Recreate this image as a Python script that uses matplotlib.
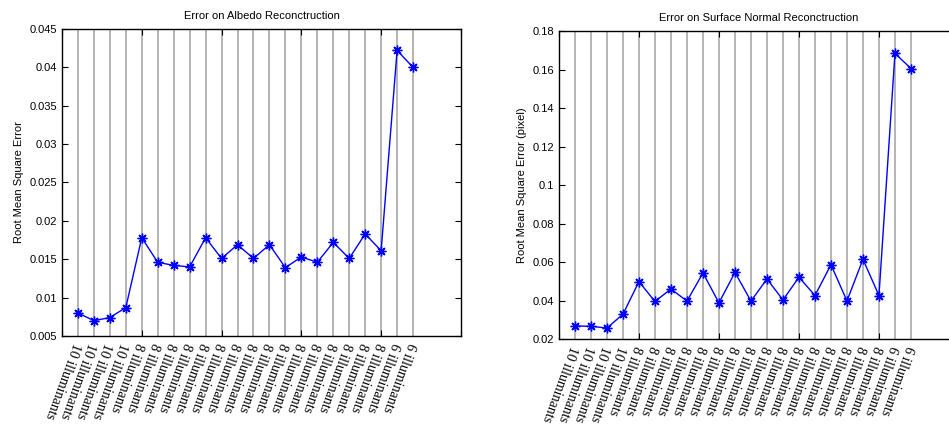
import matplotlib
matplotlib.use('Agg')
import matplotlib.pyplot as plt
import matplotlib.transforms as mtransforms
import numpy as np

plt.rcParams['font.family'] = 'Liberation Sans'

# data
labels = ['10 illuminants'] * 4 + ['8 illuminants'] * 16 + ['6 illuminants'] * 2
albedo_err = [0.0080, 0.0070, 0.0074, 0.0087, 0.0178, 0.0146, 0.0142, 0.0140,
              0.0178, 0.0151, 0.0169, 0.0151, 0.0169, 0.0139, 0.0153, 0.0146,
              0.0172, 0.0151, 0.0183, 0.0161, 0.0422, 0.0400]
normal_err = [0.0268, 0.0266, 0.0257, 0.0329, 0.0498, 0.0395, 0.0460, 0.0397,
              0.0543, 0.0388, 0.0546, 0.0397, 0.0512, 0.0403, 0.0521, 0.0426,
              0.0586, 0.0398, 0.0614, 0.0426, 0.1684, 0.1605]
albedo_yticks = [0.005, 0.01, 0.015, 0.02, 0.025, 0.03, 0.035, 0.04, 0.045]
albedo_ylabels = ['0.005', '0.01', '0.015', '0.02', '0.025', '0.03', '0.035', '0.04', '0.045']
normal_yticks = [0.02, 0.04, 0.06, 0.08, 0.1, 0.12, 0.14, 0.16, 0.18]
normal_ylabels = ['0.02', '0.04', '0.06', '0.08', '0.1', '0.12', '0.14', '0.16', '0.18']

x = np.arange(1, len(labels) + 1)

fig = plt.figure(figsize=(9.49, 4.26), dpi=100)
ax1 = fig.add_axes([0.0653, 0.2113, 0.4204, 0.7207])
ax2 = fig.add_axes([0.589, 0.2042, 0.4215, 0.723])


def draw(ax, y, yticks, ylabels, title, ylabel):
    for xi in x:
        ax.axvline(xi, color='#a8a8a8', lw=1.2, zorder=1)
    ax.plot(x, y, color='blue', lw=1.0, marker=(8, 2, 0), ms=7, mew=1.0,
            markeredgecolor='blue', zorder=3)
    ax.set_xlim(0, 25)
    ax.set_ylim(yticks[0], yticks[-1])
    ax.set_xticks([0, 5, 10, 15, 20, 25])
    ax.set_xticklabels([])
    # rotated labels under each point (MATLAB xticklabel_rotate look)
    trans = ax.get_xaxis_transform() + mtransforms.ScaledTranslation(
        4 / 100, 0, fig.dpi_scale_trans)
    for xi, lab in zip(x, labels):
        ax.text(xi, -0.015, lab, transform=trans, rotation=250,
                ha='right', va='top', family='Liberation Serif', fontsize=10)
    ax.set_yticks(yticks)
    ax.set_yticklabels(ylabels, fontsize=8)
    ax.tick_params(which='major', direction='in', length=4, width=0.8,
                   top=True, right=True, labelsize=8)
    for s in ax.spines.values():
        s.set_linewidth(1.0)
    ax.set_title(title, fontsize=8, pad=7)
    ax.set_ylabel(ylabel, fontsize=8)


draw(ax1, albedo_err, albedo_yticks, albedo_ylabels,
     'Error on Albedo Reconctruction', 'Root Mean Square Error')
draw(ax2, normal_err, normal_yticks, normal_ylabels,
     'Error on Surface Normal Reconctruction', 'Root Mean Square Error (pixel)')

fig.savefig('out.png', dpi=100)
plt.close()
